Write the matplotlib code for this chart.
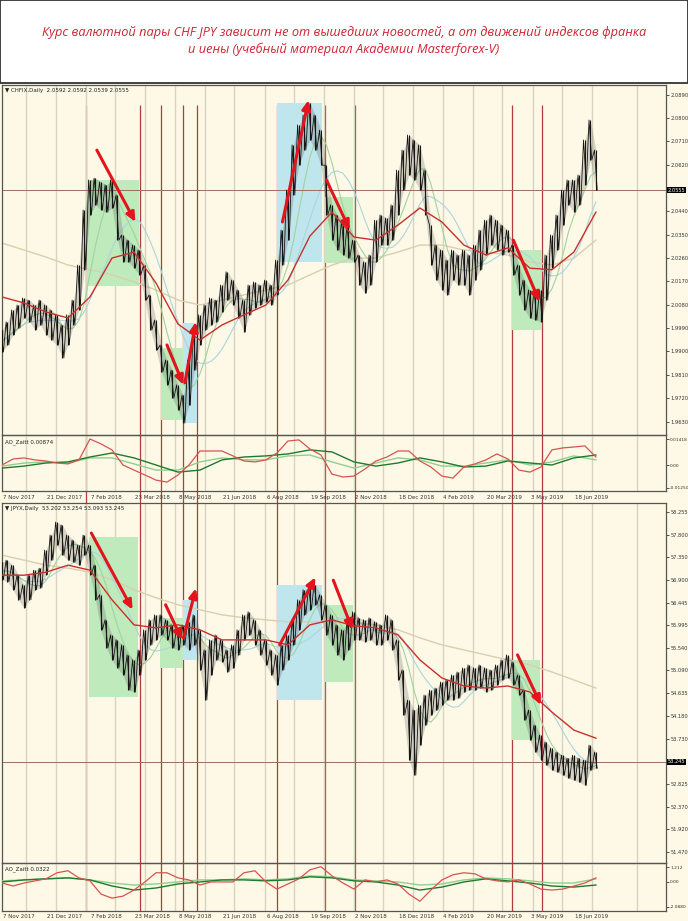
import numpy as np
import pandas as pd
import matplotlib
matplotlib.use('Agg')
import matplotlib.pyplot as plt
from matplotlib.patches import Rectangle
from matplotlib.transforms import blended_transform_factory

# ---- data ----
BAR_STEP = 4          # bars between price samples
MA_STEP = 16          # bars between points of the coarse lines
AO_STEP = 8           # bars between oscillator points
N_BARS = 483          # bars visible in the window

date_labels = ["7 Nov 2017", "21 Dec 2017", "7 Feb 2018", "23 Mar 2018", "8 May 2018",
               "21 Jun 2018", "6 Aug 2018", "19 Sep 2018", "2 Nov 2018", "18 Dec 2018",
               "4 Feb 2019", "20 Mar 2019", "3 May 2019", "18 Jun 2019"]
date_bars = [0, 32, 64, 96, 128, 160, 192, 224, 256, 288, 320, 352, 384, 416]
grid_bars = [17.5, 39, 61, 82.5, 104, 126, 147.5, 169, 191, 212.5, 234, 256, 277.5,
             299, 321, 342.5, 364, 386, 407.5, 429, 462]
event_bars = [61, 100.5, 116, 131.5, 141.5, 200, 235, 256.5, 371, 393]

chf_hi = [1.9983, 2.0014, 2.0060, 2.0079, 2.0106, 2.0098, 2.0079, 2.0098, 2.0079, 2.0060,
          2.0041, 2.0002, 2.0041, 2.0098, 2.0233, 2.0445, 2.0561, 2.0568, 2.0553, 2.0542,
          2.0561, 2.0503, 2.0349, 2.0329, 2.0310, 2.0291, 2.0233, 2.0118, 2.0021, 1.9925,
          1.9867, 1.9828, 1.9771, 1.9732, 1.9867, 1.9983, 2.0041, 2.0079, 2.0106, 2.0098,
          2.0156, 2.0207, 2.0175, 2.0137, 2.0098, 2.0156, 2.0168, 2.0156, 2.0175, 2.0156,
          2.0252, 2.0368, 2.0522, 2.0696, 2.0773, 2.0811, 2.0857, 2.0811, 2.0753, 2.0618,
          2.0465, 2.0426, 2.0406, 2.0387, 2.0329, 2.0272, 2.0245, 2.0272, 2.0406, 2.0426,
          2.0414, 2.0465, 2.0599, 2.0676, 2.0734, 2.0715, 2.0696, 2.0599, 2.0387, 2.0310,
          2.0291, 2.0252, 2.0291, 2.0272, 2.0291, 2.0272, 2.0310, 2.0368, 2.0406, 2.0426,
          2.0406, 2.0387, 2.0368, 2.0310, 2.0233, 2.0175, 2.0137, 2.0137, 2.0137, 2.0272,
          2.0349, 2.0426, 2.0522, 2.0561, 2.0561, 2.0580, 2.0715, 2.0792, 2.0676]
chf_lo = [1.9898, 1.9925, 1.9964, 1.9990, 2.0029, 2.0014, 1.9983, 2.0002, 1.9964, 1.9944,
          1.9925, 1.9875, 1.9925, 2.0002, 2.0060, 2.0215, 2.0426, 2.0465, 2.0445, 2.0437,
          2.0453, 2.0329, 2.0245, 2.0245, 2.0221, 2.0195, 2.0098, 1.9983, 1.9906, 1.9821,
          1.9771, 1.9720, 1.9674, 1.9624, 1.9693, 1.9828, 1.9925, 1.9983, 2.0002, 2.0014,
          2.0052, 2.0098, 2.0079, 2.0029, 1.9975, 2.0041, 2.0067, 2.0079, 2.0091, 2.0079,
          2.0118, 2.0233, 2.0329, 2.0503, 2.0618, 2.0676, 2.0715, 2.0676, 2.0618, 2.0426,
          2.0329, 2.0291, 2.0272, 2.0260, 2.0245, 2.0156, 2.0125, 2.0156, 2.0245, 2.0310,
          2.0310, 2.0329, 2.0426, 2.0522, 2.0580, 2.0561, 2.0522, 2.0426, 2.0233, 2.0175,
          2.0137, 2.0118, 2.0175, 2.0156, 2.0156, 2.0118, 2.0175, 2.0215, 2.0272, 2.0310,
          2.0291, 2.0272, 2.0283, 2.0195, 2.0118, 2.0060, 2.0029, 2.0021, 2.0014, 2.0098,
          2.0221, 2.0291, 2.0387, 2.0465, 2.0437, 2.0465, 2.0542, 2.0638, 2.0522]
chf_ma_red = [2.0110, 2.0087, 2.0052, 2.0029, 2.0110, 2.0260, 2.0283, 2.0164, 2.0006, 1.9944,
              2.0002, 2.0041, 2.0079, 2.0175, 2.0345, 2.0437, 2.0341, 2.0329, 2.0387, 2.0453,
              2.0399, 2.0310, 2.0272, 2.0299, 2.0221, 2.0215, 2.0283, 2.0437]
chf_ma_long = [2.0318, 2.0291, 2.0264, 2.0233, 2.0215, 2.0195, 2.0168, 2.0137, 2.0098, 2.0079,
               2.0098, 2.0118, 2.0137, 2.0156, 2.0195, 2.0233, 2.0260, 2.0260, 2.0283, 2.0310,
               2.0310, 2.0291, 2.0283, 2.0272, 2.0245, 2.0233, 2.0260, 2.0329]
chf_ao = [0.0000, 0.0033, 0.0039, 0.0028, 0.0022, 0.0011, 0.0006, 0.0028, 0.0143, 0.0116,
          0.0083, 0.0000, -0.0028, -0.0055, -0.0083, -0.0094, -0.0055, 0.0000, 0.0077, 0.0077,
          0.0077, 0.0050, 0.0022, 0.0017, 0.0028, 0.0066, 0.0132, 0.0138, 0.0088, 0.0055,
          -0.0050, -0.0066, -0.0061, -0.0022, 0.0022, 0.0044, 0.0077, 0.0077, 0.0022, -0.0011,
          -0.0061, -0.0072, -0.0011, 0.0006, 0.0028, 0.0061, 0.0033, -0.0028, -0.0039, -0.0011,
          0.0083, 0.0094, 0.0099, 0.0105, 0.0044]
chf_ao_slow = [-0.0017, -0.0006, 0.0011, 0.0017, 0.0044, 0.0066, 0.0039, 0.0000, -0.0039, -0.0028,
               0.0028, 0.0044, 0.0050, 0.0061, 0.0083, 0.0072, 0.0017, -0.0006, 0.0011, 0.0039,
               0.0017, -0.0011, -0.0006, 0.0022, 0.0011, 0.0000, 0.0039, 0.0055]
chf_ao_sig = [-0.0006, 0.0011, 0.0017, 0.0011, 0.0039, 0.0039, 0.0006, -0.0028, -0.0028, 0.0017,
              0.0039, 0.0028, 0.0028, 0.0050, 0.0055, 0.0017, -0.0017, 0.0011, 0.0039, 0.0028,
              -0.0006, -0.0006, 0.0011, 0.0028, 0.0000, 0.0017, 0.0050, 0.0028]
chf_ticks = [1.9630, 1.9720, 1.9810, 1.9900, 1.9990, 2.0080, 2.0170, 2.0260, 2.0350, 2.0440,
             2.0620, 2.0710, 2.0800, 2.0890]
chf_last_line = 2.0522
chf_last_text = "2.0555"

jpy_hi = [57.25, 57.29, 57.19, 57.00, 56.80, 57.00, 57.09, 57.13, 57.49, 57.79,
          58.05, 57.99, 57.79, 57.69, 57.59, 57.79, 57.59, 57.19, 56.60, 56.10,
          55.80, 55.70, 55.60, 55.40, 55.30, 55.50, 55.90, 56.10, 56.20, 56.20,
          56.10, 56.00, 55.94, 56.00, 56.06, 56.20, 55.90, 55.50, 55.70, 55.80,
          55.70, 55.50, 55.60, 55.90, 56.20, 56.26, 56.10, 55.90, 55.70, 55.50,
          55.40, 55.60, 55.80, 56.10, 56.50, 56.70, 56.74, 56.80, 56.60, 56.40,
          56.20, 56.00, 55.90, 56.10, 56.26, 56.14, 56.10, 56.14, 56.06, 56.00,
          56.20, 56.10, 55.70, 55.10, 54.50, 54.30, 54.40, 54.60, 54.70, 54.74,
          54.86, 54.90, 55.00, 55.06, 55.14, 55.20, 55.14, 55.20, 55.14, 55.10,
          55.20, 55.30, 55.40, 55.26, 55.00, 54.70, 54.30, 54.00, 53.80, 53.66,
          53.54, 53.46, 53.40, 53.34, 53.40, 53.34, 53.30, 53.60, 53.46]
jpy_lo = [56.90, 56.86, 56.70, 56.50, 56.34, 56.50, 56.70, 56.74, 57.00, 57.29,
          57.59, 57.39, 57.29, 57.25, 57.19, 57.39, 57.00, 56.50, 55.90, 55.54,
          55.30, 55.14, 55.00, 54.70, 54.66, 55.00, 55.30, 55.60, 55.70, 55.80,
          55.70, 55.54, 55.50, 55.60, 55.50, 55.60, 55.10, 54.50, 55.00, 55.30,
          55.26, 55.06, 55.14, 55.40, 55.70, 55.80, 55.60, 55.40, 55.20, 55.00,
          54.80, 55.10, 55.30, 55.60, 55.90, 56.20, 56.30, 56.40, 56.10, 55.80,
          55.60, 55.40, 55.30, 55.50, 55.70, 55.70, 55.66, 55.70, 55.60, 55.60,
          55.70, 55.50, 54.90, 54.20, 53.30, 53.00, 53.60, 54.00, 54.20, 54.30,
          54.40, 54.50, 54.50, 54.54, 54.66, 54.70, 54.70, 54.74, 54.66, 54.70,
          54.80, 54.90, 54.94, 54.80, 54.60, 54.10, 53.70, 53.46, 53.30, 53.20,
          53.10, 53.06, 53.00, 52.94, 52.90, 52.86, 52.80, 53.10, 53.14]
jpy_ma_red = [56.99, 56.99, 57.05, 57.19, 57.09, 56.50, 56.00, 55.94, 56.00, 55.90,
              55.70, 55.70, 55.70, 55.60, 56.00, 56.10, 55.98, 55.94, 55.80, 55.30,
              54.94, 54.78, 54.74, 54.78, 54.66, 54.26, 53.90, 53.74]
jpy_ma_long = [57.39, 57.29, 57.19, 57.13, 57.05, 56.90, 56.70, 56.54, 56.40, 56.30,
               56.20, 56.14, 56.10, 56.06, 56.06, 56.06, 56.04, 56.00, 55.90, 55.74,
               55.60, 55.50, 55.40, 55.30, 55.20, 55.06, 54.90, 54.74]
jpy_ao = [-0.09, -0.34, -0.09, 0.09, 0.26, 0.77, 0.94, 0.34, 0.09, -1.02,
          -1.36, -1.19, -0.68, 0.00, 0.77, 0.77, 0.34, 0.17, -0.26, 0.00,
          0.00, 0.00, 0.77, 0.94, 0.00, -0.60, -0.17, 0.26, 1.02, 1.28,
          0.51, -0.09, -0.60, 0.17, 0.00, 0.17, -0.17, -1.02, -1.62, -0.68,
          0.17, 0.60, 0.77, 0.68, 0.26, 0.09, 0.00, 0.17, -0.17, -0.60,
          -0.68, -0.60, -0.34, -0.09, 0.34]
jpy_ao_slow = [0.00, 0.17, 0.26, 0.34, 0.17, -0.34, -0.68, -0.51, -0.17, 0.00,
               0.17, 0.17, 0.09, 0.17, 0.43, 0.34, 0.09, 0.00, -0.26, -0.68,
               -0.43, 0.00, 0.26, 0.09, -0.09, -0.34, -0.43, -0.26]
jpy_ao_sig = [0.09, 0.17, 0.26, 0.34, 0.17, -0.09, -0.26, -0.17, 0.00, 0.17,
              0.17, 0.26, 0.17, 0.26, 0.51, 0.43, 0.17, 0.09, 0.00, -0.26,
              -0.17, 0.17, 0.34, 0.26, 0.09, -0.09, -0.09, 0.26]
jpy_ticks = [51.470, 51.920, 52.370, 52.825, 53.730, 54.180, 54.635, 55.090, 55.540,
             55.995, 56.445, 56.900, 57.350, 57.800, 58.255]
jpy_last = 53.265
jpy_last_text = "53.245"

# highlighted zones: (first bar, last bar, low, high)
chf_green = [(62, 100, 2.0154, 2.0561), (116, 132, 1.9636, 1.9913), (235, 255, 2.0241, 2.0495),
             (371, 393, 1.9983, 2.0291)]
chf_blue = [(132, 142, 1.9624, 2.0010), (200, 233, 2.0245, 2.0857)]
jpy_green = [(63, 99, 54.56, 57.75), (115, 132, 55.14, 56.14), (235, 255, 54.86, 56.40),
             (371, 391, 53.70, 55.30)]
jpy_blue = [(132, 142, 55.30, 56.50), (200, 233, 54.50, 56.80)]

# arrows: (bar from, value from, bar to, value to)
chf_arrows = [(69, 2.0676, 97, 2.0399), (120, 1.9925, 132, 1.9771), (133, 1.9779, 141, 2.0014),
              (204, 2.0399, 223, 2.0869), (236, 2.0561, 253, 2.0368), (372, 2.0329, 391, 2.0091)]
jpy_arrows = [(65, 57.83, 95, 56.30), (119, 56.40, 131, 55.70), (132, 55.74, 141, 56.73),
              (202, 55.60, 228, 56.95), (241, 56.89, 255, 55.90), (375, 55.40, 392, 54.40)]

TITLE = ("Курс валютной пары CHF JPY зависит не от вышедших новостей, а от движений индексов франка\n"
         "и иены (учебный материал Академии Masterforex-V)")

# ---- styling ----
BG = '#fdf9e6'
W, H = 688, 921


def frame(l, t, r, b):
    return [l / W, 1 - b / H, (r - l) / W, (b - t) / H]


def setup(ax, ylim, labelsize=3.7):
    ax.set_facecolor('none')
    ax.set_xlim(0, N_BARS)
    ax.set_ylim(*ylim)
    ax.set_xticks([])
    for s in ax.spines.values():
        s.set_color('#555555')
        s.set_linewidth(0.9)
    for g in grid_bars:
        ax.axvline(g, color='#d8d4c0', lw=1.0, zorder=0.5)
    ax.yaxis.tick_right()
    ax.tick_params(axis='y', labelsize=labelsize, length=2, width=0.6, pad=1.0,
                   colors='#333333', direction='out')


def draw_price(ax, hi, lo, ma_red, ma_long):
    hi = np.array(hi)
    lo = np.array(lo)
    x = np.arange(len(hi)) * BAR_STEP
    mid = pd.Series((hi + lo) / 2)
    xm = np.arange(len(ma_red)) * MA_STEP
    ax.plot(xm, ma_long, color='#d9cfae', lw=1.0, zorder=2)
    ax.plot(x, mid.rolling(10, min_periods=1).mean(), color='#a9d6e0', lw=0.8, zorder=2)
    ax.plot(x, mid.rolling(5, min_periods=1).mean(), color='#9fd39f', lw=0.8, zorder=2)
    ax.fill_between(x, lo, hi, color='#3a3a3a', alpha=0.2, lw=0, zorder=3)
    ax.vlines(x, lo, hi, color='#151515', lw=0.8, zorder=4)
    # zig-zag between highs and lows to give the candle texture
    zx = np.ravel(np.column_stack([x - 1, x + 1]))
    zy = np.ravel(np.column_stack([hi, lo]))
    ax.plot(zx, zy, color='#151515', lw=0.6, zorder=4)
    ax.plot(xm, ma_red, color='#c9302c', lw=1.0, zorder=5)


def draw_zones(ax, green, blue):
    for zones, col in ((green, '#bfeabb'), (blue, '#bfe6ec')):
        for x0, x1, y0, y1 in zones:
            ax.add_patch(Rectangle((x0, y0), x1 - x0, y1 - y0, facecolor=col,
                                   edgecolor='none', zorder=1))


def draw_arrows(ax, arrows):
    for x0, y0, x1, y1 in arrows:
        ax.annotate('', xy=(x1, y1), xytext=(x0, y0), zorder=8,
                    arrowprops=dict(arrowstyle='-|>,head_length=0.55,head_width=0.25',
                                    color='#e3141b', lw=2.2, shrinkA=0, shrinkB=0))


def draw_osc(ax, ao, slow, sig):
    xa = np.arange(len(ao)) * AO_STEP
    xs = np.arange(len(slow)) * MA_STEP
    ax.plot(xs, sig, color='#8fcf8f', lw=1.0, zorder=3)
    ax.plot(xs, slow, color='#1f7a2e', lw=1.0, zorder=3)
    ax.plot(xa, ao, color='#d9534f', lw=0.9, zorder=4)


def last_price(ax, val, text):
    ax.axhline(val, color='#9a6e62', lw=0.7, zorder=2)
    tr = blended_transform_factory(ax.transAxes, ax.transData)
    ax.text(1.003, val, text, transform=tr, ha='left', va='center', fontsize=3.7,
            color='white', bbox=dict(facecolor='black', edgecolor='none', pad=0.6))


fig = plt.figure(figsize=(W / 100, H / 100), dpi=100, facecolor=BG)
fig.patches.append(Rectangle((0, 1 - 83 / H), 1, 83 / H, transform=fig.transFigure,
                             facecolor='white', edgecolor='#222222', lw=1.2, zorder=0))
fig.text(0.5, 1 - 41 / H, TITLE, ha='center', va='center', color='#cf2331', fontsize=9.2,
         style='italic', family='Open Sans', linespacing=1.3)

# red event lines across both charts (behind the transparent panels)
ov = fig.add_axes(frame(2, 105, 666, 911), zorder=0.3)
ov.set_xlim(0, N_BARS)
ov.set_ylim(0, 1)
ov.axis('off')
ov.vlines(event_bars, 0, 1, color='#b23b3b', lw=0.9)

# CHFIX
ax1 = fig.add_axes(frame(2, 85, 666, 435), zorder=1)
setup(ax1, (1.9578, 2.0927))
draw_zones(ax1, chf_green, chf_blue)
draw_price(ax1, chf_hi, chf_lo, chf_ma_red, chf_ma_long)
draw_arrows(ax1, chf_arrows)
ax1.set_yticks(chf_ticks)
ax1.set_yticklabels([f'{t:.4f}' for t in chf_ticks])
last_price(ax1, chf_last_line, chf_last_text)
ax1.text(0.004, 0.992, '▼ CHFIX,Daily  2.0592 2.0592 2.0539 2.0555', transform=ax1.transAxes,
         fontsize=4.0, va='top', color='#222222')

ind1 = fig.add_axes(frame(2, 435, 666, 491), zorder=1)
setup(ind1, (-0.0143, 0.0165), labelsize=3.2)
draw_osc(ind1, chf_ao, chf_ao_slow, chf_ao_sig)
ind1.set_yticks([-0.0125, 0, 0.0143])
ind1.set_yticklabels(['-0.01250', '0.00', '0.01418'])
ind1.text(0.004, 0.93, 'AO_Zaitt 0.00874', transform=ind1.transAxes, fontsize=4.0,
          va='top', color='#222222')

# JPYX
ax2 = fig.add_axes(frame(2, 503, 666, 863), zorder=1)
setup(ax2, (51.250, 58.430))
draw_zones(ax2, jpy_green, jpy_blue)
draw_price(ax2, jpy_hi, jpy_lo, jpy_ma_red, jpy_ma_long)
draw_arrows(ax2, jpy_arrows)
ax2.set_yticks(jpy_ticks)
ax2.set_yticklabels([f'{t:.3f}' for t in jpy_ticks])
last_price(ax2, jpy_last, jpy_last_text)
ax2.text(0.004, 0.992, '▼ JPYX,Daily  53.202 53.254 53.093 53.245', transform=ax2.transAxes,
         fontsize=4.0, va='top', color='#222222')

ind2 = fig.add_axes(frame(2, 863, 666, 911), zorder=1)
setup(ind2, (-2.44, 1.59), labelsize=3.2)
draw_osc(ind2, jpy_ao, jpy_ao_slow, jpy_ao_sig)
ind2.set_yticks([-2.10, 0, 1.22])
ind2.set_yticklabels(['-2.0880', '0.00', '1.212'])
ind2.text(0.004, 0.93, 'AO_Zaitt 0.0322', transform=ind2.transAxes, fontsize=4.0,
          va='top', color='#222222')

# date rows under both oscillators
for ind, ypix in ((ind1, 497), (ind2, 916.5)):
    tr = blended_transform_factory(ind.transData, fig.transFigure)
    for lab, b in zip(date_labels, date_bars):
        fig.text(b + 1, 1 - ypix / H, lab, transform=tr, fontsize=4.0, ha='left',
                 va='center', color='#333333')

fig.savefig('out.png', dpi=100, facecolor=BG)
